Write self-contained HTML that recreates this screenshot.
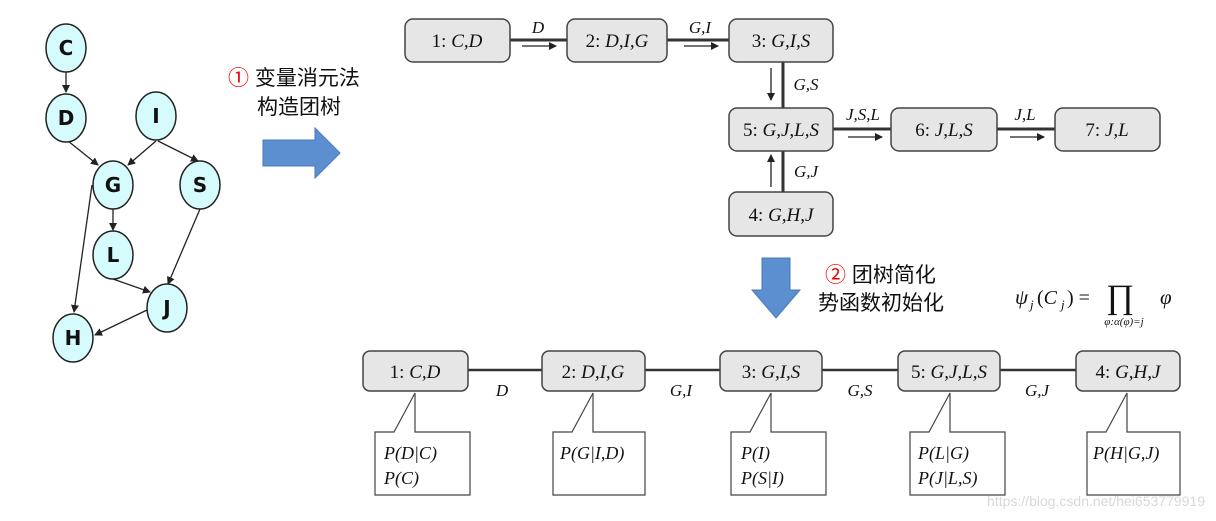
<!DOCTYPE html>
<html><head><meta charset="utf-8"><style>
html,body{margin:0;padding:0;background:#fff;}
svg{display:block;}
.s{font-family:"Liberation Serif",serif;font-size:19px;fill:#111;}
.i{font-style:italic;}
.c{font-family:"Liberation Sans","Noto Sans CJK SC",sans-serif;font-size:21px;fill:#111;}
.n{font-family:"DejaVu Sans","Liberation Sans",sans-serif;font-size:20px;font-weight:bold;fill:#111;text-anchor:middle;dominant-baseline:central;}
.bx{fill:#e6e6e6;stroke:#444;stroke-width:1.5;}
.cb{fill:#fff;stroke:#444;stroke-width:1.2;}
.e{fill:#d6fbfd;stroke:#222;stroke-width:1.5;}
</style></head><body>
<svg width="1216" height="521" viewBox="0 0 1216 521">
<defs>
<marker id="a" markerWidth="8" markerHeight="8" refX="7" refY="4" orient="auto" markerUnits="userSpaceOnUse"><path d="M0,0 L8,4 L0,8 z" fill="#222"/></marker>
</defs>
<g stroke="#222" stroke-width="1.3" fill="none" marker-end="url(#a)">
<line x1="66" y1="72" x2="66" y2="92"/>
<line x1="68" y1="141" x2="98" y2="165"/>
<line x1="156" y1="141" x2="128" y2="165"/>
<line x1="158" y1="141" x2="198" y2="161"/>
<line x1="113" y1="209" x2="113" y2="230"/>
<line x1="92" y1="185" x2="74" y2="312"/>
<line x1="200" y1="209" x2="168" y2="284"/>
<line x1="113" y1="279" x2="150" y2="292"/>
<line x1="147" y1="310" x2="95" y2="335"/>
</g>
<g>
<ellipse class="e" cx="66" cy="48" rx="20" ry="24"/><text class="n" x="66" y="48">C</text>
<ellipse class="e" cx="66" cy="118" rx="20" ry="24"/><text class="n" x="66" y="118">D</text>
<ellipse class="e" cx="156" cy="116" rx="20" ry="24"/><text class="n" x="156" y="116">I</text>
<ellipse class="e" cx="113" cy="185" rx="20" ry="24"/><text class="n" x="113" y="185">G</text>
<ellipse class="e" cx="200" cy="185" rx="20" ry="24"/><text class="n" x="200" y="185">S</text>
<ellipse class="e" cx="113" cy="255" rx="20" ry="24"/><text class="n" x="113" y="255">L</text>
<ellipse class="e" cx="167" cy="308" rx="20" ry="24"/><text class="n" x="167" y="308">J</text>
<ellipse class="e" cx="73" cy="338" rx="20" ry="24"/><text class="n" x="73" y="338">H</text>
</g>
<text class="c" x="228" y="85"><tspan fill="#e00">①</tspan> 变量消元法</text>
<text class="c" x="257" y="114">构造团树</text>
<path d="M263,140 L315,140 L315,128 L340,153 L315,178 L315,166 L263,166 z" fill="#5b8fcf" stroke="#4a7ab8"/>
<g stroke="#333" stroke-width="3" fill="none">
<line x1="510" y1="40" x2="567" y2="40"/>
<line x1="667" y1="40" x2="729" y2="40"/>
<line x1="783" y1="62" x2="783" y2="108"/>
<line x1="833" y1="129" x2="891" y2="129"/>
<line x1="997" y1="129" x2="1055" y2="129"/>
<line x1="783" y1="150" x2="783" y2="192"/>
</g>
<g stroke="#222" stroke-width="1.3" marker-end="url(#a)">
<line x1="522" y1="46" x2="556" y2="46"/>
<line x1="684" y1="46" x2="718" y2="46"/>
<line x1="771" y1="68" x2="771" y2="100"/>
<line x1="848" y1="137" x2="882" y2="137"/>
<line x1="1010" y1="137" x2="1044" y2="137"/>
<line x1="771" y1="187" x2="771" y2="155"/>
</g>
<rect class="bx" x="405" y="19" width="105" height="43" rx="8"/>
<rect class="bx" x="567" y="19" width="100" height="43" rx="8"/>
<rect class="bx" x="729" y="19" width="104" height="43" rx="8"/>
<rect class="bx" x="729" y="108" width="104" height="43" rx="8"/>
<rect class="bx" x="891" y="108" width="106" height="43" rx="8"/>
<rect class="bx" x="1055" y="108" width="105" height="43" rx="8"/>
<rect class="bx" x="729" y="192" width="104" height="44" rx="8"/>
<g class="s" text-anchor="middle">
<text x="457" y="47">1: <tspan class="i">C,D</tspan></text>
<text x="617" y="47">2: <tspan class="i">D,I,G</tspan></text>
<text x="781" y="47">3: <tspan class="i">G,I,S</tspan></text>
<text x="781" y="136">5: <tspan class="i">G,J,L,S</tspan></text>
<text x="944" y="136">6: <tspan class="i">J,L,S</tspan></text>
<text x="1107" y="136">7: <tspan class="i">J,L</tspan></text>
<text x="781" y="221">4: <tspan class="i">G,H,J</tspan></text>
</g>
<g class="s i" style="font-size:17px" text-anchor="middle">
<text x="538" y="33">D</text>
<text x="700" y="33">G,I</text>
<text x="806" y="90">G,S</text>
<text x="863" y="120">J,S,L</text>
<text x="1025" y="120">J,L</text>
<text x="806" y="177">G,J</text>
</g>
<path d="M762,258 L790,258 L790,290 L800,290 L776,318 L752,290 L762,290 z" fill="#5b8fcf" stroke="#4a7ab8"/>
<text class="c" x="825" y="282"><tspan fill="#e00">②</tspan> 团树简化</text>
<text class="c" x="818" y="310">势函数初始化</text>
<text class="s i" x="1015" y="304" style="font-size:21px">ψ</text>
<text class="s i" x="1030" y="309" style="font-size:13px">j</text>
<text class="s" x="1037" y="304" style="font-size:20px">(<tspan class="i">C</tspan></text>
<text class="s i" x="1061" y="309" style="font-size:13px">j</text>
<text class="s" x="1067" y="304" style="font-size:20px">) =</text>
<text class="s" x="1106" y="308" style="font-size:34px">∏</text>
<text class="s i" x="1124" y="325" style="font-size:11px" text-anchor="middle">φ:α(φ)=j</text>
<text class="s i" x="1160" y="304" style="font-size:21px">φ</text>
<line x1="468" y1="370" x2="1076" y2="370" stroke="#333" stroke-width="2.5"/>
<g class="s i" style="font-size:17px" text-anchor="middle">
<text x="502" y="396">D</text>
<text x="681" y="396">G,I</text>
<text x="860" y="396">G,S</text>
<text x="1037" y="396">G,J</text>
</g>
<rect class="bx" x="363" y="351" width="105" height="40" rx="7"/>
<rect class="bx" x="542" y="351" width="103" height="40" rx="7"/>
<rect class="bx" x="720" y="351" width="102" height="40" rx="7"/>
<rect class="bx" x="898" y="351" width="102" height="40" rx="7"/>
<rect class="bx" x="1076" y="351" width="104" height="40" rx="7"/>
<g class="s" text-anchor="middle">
<text x="415" y="378">1: <tspan class="i">C,D</tspan></text>
<text x="593" y="378">2: <tspan class="i">D,I,G</tspan></text>
<text x="771" y="378">3: <tspan class="i">G,I,S</tspan></text>
<text x="949" y="378">5: <tspan class="i">G,J,L,S</tspan></text>
<text x="1128" y="378">4: <tspan class="i">G,H,J</tspan></text>
</g>
<g class="cb">
<path d="M375,432 L394,432 L415,393 L415,432 L470,432 L470,495 L375,495 z"/>
<path d="M553,432 L572,432 L593,393 L593,432 L645,432 L645,495 L553,495 z"/>
<path d="M731,432 L750,432 L771,393 L771,432 L826,432 L826,495 L731,495 z"/>
<path d="M910,432 L929,432 L950,393 L950,432 L1005,432 L1005,495 L910,495 z"/>
<path d="M1087,432 L1106,432 L1127,393 L1127,432 L1180,432 L1180,495 L1087,495 z"/>
</g>
<g class="s i" style="font-size:18px">
<text x="384" y="459">P(D|C)</text><text x="384" y="484">P(C)</text>
<text x="560" y="459">P(G|I,D)</text>
<text x="741" y="459">P(I)</text><text x="741" y="484">P(S|I)</text>
<text x="918" y="459">P(L|G)</text><text x="918" y="484">P(J|L,S)</text>
<text x="1093" y="459">P(H|G,J)</text>
</g>
<text x="1205" y="506" text-anchor="end" style="font-family:'Liberation Sans',sans-serif;font-size:14px;fill:#d8d8d8">https://blog.csdn.net/hei653779919</text>
</svg>
</body></html>
